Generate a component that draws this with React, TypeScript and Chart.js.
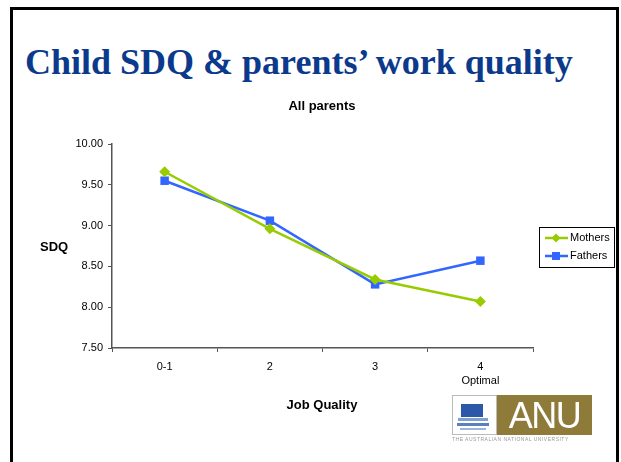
import React, { useEffect, useRef } from "react";
import { Chart, registerables } from "chart.js";

Chart.register(...registerables);

const categories: (string | string[])[] = ["0-1", "2", "3", ["4", "Optimal"]];
const mothers = [9.66, 8.96, 8.34, 8.07];
const fathers = [9.55, 9.06, 8.28, 8.57];
const seriesNames = ["Mothers", "Fathers"];
const yMin = 7.5;
const yMax = 10;
const yStep = 0.5;

const GREEN = "#99CC00";
const BLUE = "#3366FF";

const legendPlugin = {
  id: "boxLegend",
  afterDraw(chart: any) {
    const ctx = chart.ctx;
    const x = 539.5, y = 227.5, w = 75, h = 40;
    ctx.save();
    ctx.strokeStyle = "#000";
    ctx.lineWidth = 1;
    ctx.strokeRect(x, y, w, h);
    ctx.font = "11px 'Liberation Sans', Arial, sans-serif";
    ctx.textBaseline = "middle";
    const rows = [
      { name: seriesNames[0], color: GREEN, style: "diamond", cy: 238 },
      { name: seriesNames[1], color: BLUE, style: "square", cy: 256 },
    ];
    rows.forEach((r) => {
      ctx.strokeStyle = r.color;
      ctx.lineWidth = 2.5;
      ctx.beginPath();
      ctx.moveTo(545, r.cy);
      ctx.lineTo(568, r.cy);
      ctx.stroke();
      ctx.fillStyle = r.color;
      if (r.style === "diamond") {
        ctx.beginPath();
        ctx.moveTo(556, r.cy - 4.5);
        ctx.lineTo(560.5, r.cy);
        ctx.lineTo(556, r.cy + 4.5);
        ctx.lineTo(551.5, r.cy);
        ctx.closePath();
        ctx.fill();
      } else {
        ctx.fillRect(552, r.cy - 4, 8, 8);
      }
      ctx.fillStyle = "#000";
      ctx.fillText(r.name, 570, r.cy);
    });
    ctx.restore();
  },
};

function ChartView() {
  const ref = useRef<HTMLCanvasElement>(null);
  useEffect(() => {
    if (!ref.current) return;
    const chart = new Chart(ref.current, {
      type: "line",
      data: {
        labels: categories,
        datasets: [
          {
            label: seriesNames[0],
            data: mothers,
            borderColor: GREEN,
            backgroundColor: GREEN,
            borderWidth: 2.5,
            pointStyle: "rectRot",
            pointRadius: 5.5,
            pointBorderWidth: 0,
            tension: 0,
          },
          {
            label: seriesNames[1],
            data: fathers,
            borderColor: BLUE,
            backgroundColor: BLUE,
            borderWidth: 2.5,
            pointStyle: "rect",
            pointRadius: 6,
            pointBorderWidth: 0,
            tension: 0,
          },
        ],
      },
      options: {
        animation: false,
        responsive: false,
        maintainAspectRatio: false,
        layout: { padding: { left: 60, right: 88, top: 144, bottom: 64 } },
        plugins: {
          legend: { display: false },
          title: { display: false },
          tooltip: { enabled: false },
        },
        scales: {
          x: {
            type: "category",
            offset: true,
            grid: {
              offset: true,
              drawOnChartArea: false,
              drawTicks: true,
              tickLength: 4,
              color: "#555",
            },
            border: { color: "#555", width: 1.5 },
            ticks: {
              color: "#000",
              padding: 8,
              font: { family: "'Liberation Sans', Arial, sans-serif", size: 11, lineHeight: 1.3 },
              maxRotation: 0,
              autoSkip: false,
            },
            afterFit(scale: any) {
              scale.height = 50;
            },
          },
          y: {
            min: yMin,
            max: yMax,
            grid: {
              drawOnChartArea: false,
              drawTicks: true,
              tickLength: 4,
              color: "#555",
            },
            border: { color: "#555", width: 1.5 },
            ticks: {
              stepSize: yStep,
              color: "#000",
              padding: 5,
              font: { family: "'Liberation Sans', Arial, sans-serif", size: 11 },
              callback: (v: any) => Number(v).toFixed(2),
            },
            afterFit(scale: any) {
              scale.width = 52;
            },
          },
        },
      },
      plugins: [legendPlugin],
    });
    return () => chart.destroy();
  }, []);
  return <canvas ref={ref} width={621} height={462} style={{ position: "absolute", left: 0, top: 0 }} />;
}

export default function App() {
  const sans = "'Liberation Sans', Arial, sans-serif";
  return (
    <div style={{ position: "fixed", left: 0, top: 0, width: 621, height: 462, background: "#fff", overflow: "hidden" }}>
      <div
        style={{
          position: "absolute",
          left: 10,
          top: 7,
          width: 609,
          height: 470,
          border: "3px solid #000",
          boxSizing: "border-box",
        }}
      />
      <div
        style={{
          position: "absolute",
          left: 25,
          top: 40,
          fontFamily: "'Liberation Serif', 'Times New Roman', serif",
          fontWeight: "bold",
          fontSize: 36,
          color: "#0B3A8C",
          whiteSpace: "nowrap",
          lineHeight: "44px",
        }}
      >
        Child SDQ &amp; parents’ work quality
      </div>
      <ChartView />
      <div style={{ position: "absolute", left: 222, width: 200, top: 97, textAlign: "center", fontFamily: sans, fontWeight: "bold", fontSize: 13, lineHeight: "18px" }}>
        All parents
      </div>
      <div style={{ position: "absolute", left: 40, top: 238, fontFamily: sans, fontWeight: "bold", fontSize: 13, lineHeight: "18px" }}>
        SDQ
      </div>
      <div style={{ position: "absolute", left: 222, width: 200, top: 396, textAlign: "center", fontFamily: sans, fontWeight: "bold", fontSize: 13, lineHeight: "18px" }}>
        Job Quality
      </div>
      {/* ANU logo */}
      <div style={{ position: "absolute", left: 452, top: 395, width: 45, height: 40, border: "1px solid #bbb", boxSizing: "border-box", background: "#fff" }}>
        <div style={{ position: "absolute", left: 8, top: 8, width: 22, height: 13, background: "#2B59A8" }} />
        <div style={{ position: "absolute", left: 5, top: 22, width: 30, height: 3, background: "#7FA0D0" }} />
        <div style={{ position: "absolute", left: 4, top: 27, width: 32, height: 3, background: "#5A80C0" }} />
        <div style={{ position: "absolute", left: 7, top: 32, width: 26, height: 2, background: "#9DB5DD" }} />
      </div>
      <div
        style={{
          position: "absolute",
          left: 497,
          top: 395,
          width: 95,
          height: 40,
          background: "#8E7B3A",
          color: "#fff",
          fontFamily: sans,
          fontSize: 36,
          lineHeight: "42px",
          textAlign: "center",
          letterSpacing: -1.5,
        }}
      >
        ANU
      </div>
      <div style={{ position: "absolute", left: 452, top: 436, width: 140, fontFamily: sans, fontSize: 5, color: "#999", whiteSpace: "nowrap", letterSpacing: 0.5 }}>
        THE AUSTRALIAN NATIONAL UNIVERSITY
      </div>
    </div>
  );
}
